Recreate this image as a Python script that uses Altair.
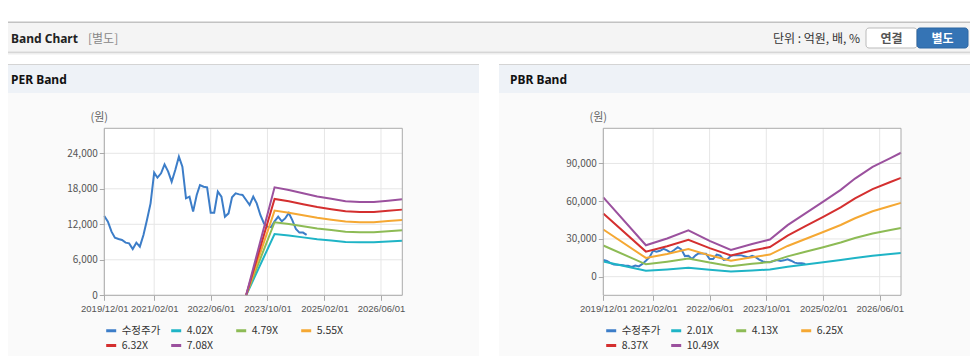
import altair as alt
import pandas as pd

# ---------------- data ----------------
price_start = "2019-12-01"
price = [13400, 12450, 10750, 9740, 9520, 9350, 8900, 8780, 7830, 8900,
         8220, 10200, 12730, 15540, 20730, 19880, 20610, 22130, 20900, 19200,
         21180, 23430, 21740, 16390, 16670, 14140, 16950, 18640, 18360, 18250,
         13970, 13970, 17520, 16670, 13290, 13850, 16560, 17230, 17060, 16950,
         16110, 15260, 16670, 15540, 13570, 12160, 11600, 11500, 12500, 13300,
         12500, 13000, 13900, 12700, 11200, 10600, 10600, 10200]

per_names = ["수정주가", "4.02X", "4.79X", "5.55X", "6.32X", "7.08X"]
per_band_dates = ["2023-04-01", "2023-12-01", "2024-04-01", "2024-08-01", "2024-12-01",
                  "2025-04-01", "2025-08-01", "2025-12-01", "2026-04-01", "2026-08-01",
                  "2026-12-01"]
per_402 = [0, 10360, 10100, 9790, 9480, 9250, 9020, 8950, 8950, 9090, 9210]
per_479 = [0, 12350, 12040, 11670, 11300, 11030, 10760, 10670, 10670, 10830, 10980]
per_555 = [0, 14310, 13950, 13520, 13090, 12780, 12460, 12360, 12360, 12550, 12720]
per_632 = [0, 16290, 15890, 15400, 14910, 14550, 14190, 14080, 14080, 14280, 14480]
per_708 = [0, 18250, 17800, 17250, 16700, 16300, 15900, 15770, 15770, 16000, 16220]

pbr_names = ["수정주가", "2.01X", "4.13X", "6.25X", "8.37X", "10.49X"]
pbr_band_dates = ["2019-12-01", "2020-12-01", "2021-06-01", "2021-12-01", "2022-06-01",
                  "2022-12-01", "2023-06-01", "2023-11-01", "2024-04-01", "2024-09-01",
                  "2025-02-01", "2025-07-01", "2025-11-01", "2026-04-01", "2026-09-01",
                  "2026-12-01"]
pbr_201 = [12070, 4790, 5820, 7050, 5460, 4060, 4980, 5650, 7860, 9640,
           11420, 13220, 14940, 16730, 18070, 18870]
pbr_413 = [24800, 9840, 11970, 14490, 11220, 8350, 10240, 11610, 16140, 19800,
           23460, 27170, 30710, 34370, 37130, 38780]
pbr_625 = [37540, 14900, 18110, 21930, 16980, 12630, 15490, 17580, 24430, 29970,
           35510, 41110, 46470, 52010, 56180, 58690]
pbr_837 = [50270, 19950, 24260, 29360, 22740, 16920, 20750, 23540, 32710, 40130,
           47550, 55060, 62240, 69660, 75240, 78590]
pbr_1049 = [63000, 25000, 30400, 36800, 28500, 21200, 26000, 29500, 41000, 50300,
            59600, 69000, 78000, 87300, 94300, 98500]

x_ticks = ["2019-12-01", "2021-02-01", "2022-06-01", "2023-10-01", "2025-02-01", "2026-06-01"]
x_domain = ["2019-12-01", "2026-12-01"]
per_y_ticks = [0, 6000, 12000, 18000, 24000]
per_y_domain = [0, 28225]
pbr_y_ticks = [0, 30000, 60000, 90000]
pbr_y_domain = [-14780, 117940]

series_colors = ["#3c7dc8", "#1fb4c6", "#8dbb55", "#f5a833", "#d42f2f", "#9b519e"]

# ---------------- layout constants ----------------
W, H = 962, 348
PLOT_BOTTOM, PLOT_TOP = 287.3, 120.3
PER_X0, PER_X1 = 96.3, 394.3
PBR_X0, PBR_X1 = 595.3, 893.0
KFONT = "Noto Sans CJK KR"
LFONT = "Noto Sans"
NFONT = "Liberation Sans"

price_dates = pd.date_range(price_start, periods=len(price), freq="MS").strftime("%Y-%m-%d").tolist()


def dt(s):
    y, m, d = (int(v) for v in s.split("-"))
    return alt.DateTime(year=y, month=m, date=d, utc=True)


def tidy(names, band_dates, bands):
    rows = [{"date": d, "value": v, "series": names[0]} for d, v in zip(price_dates, price)]
    for name, vals in zip(names[1:], bands):
        rows += [{"date": d, "value": v, "series": name} for d, v in zip(band_dates, vals)]
    return pd.DataFrame(rows)


one = pd.DataFrame({"k": [0]})


def box(x0, x1, y0, y1, **kw):
    return alt.Chart(one).mark_rect(**kw).encode(
        x=alt.value(x0), x2=alt.value(x1), y=alt.value(y0), y2=alt.value(y1))


def label(txt, x, y, **kw):
    return alt.Chart(one).mark_text(text=txt, baseline="middle", **kw).encode(
        x=alt.value(x), y=alt.value(y))


def panel(df, names, x0, x1, ydom, yticks, legend_x):
    xs = alt.Scale(type="utc", domain=[dt(d) for d in x_domain], range=[x0, x1], nice=False)
    ys = alt.Scale(domain=ydom, range=[PLOT_BOTTOM, PLOT_TOP], nice=False, zero=False)
    xaxis = alt.Axis(orient="bottom", offset=PLOT_BOTTOM - H, values=[dt(d) for d in x_ticks],
                     labelExpr="utcFormat(datum.value, '%Y/%m/%d')", grid=False, domain=False,
                     tickSize=5, tickColor="#aaaaaa", labelFont=NFONT, labelFontSize=9.5,
                     labelColor="#555555", labelPadding=3, labelFlush=False,
                     labelOverlap=False, title=None, zindex=2)
    yaxis = alt.Axis(orient="left", offset=-x0, values=yticks, format=",d", grid=False,
                     domain=False, tickSize=5, tickColor="#aaaaaa", labelFont=KFONT,
                     labelFontSize=10, labelColor="#555555", labelPadding=2, title=None,
                     zindex=2)
    frame_fill = box(x0, x1, PLOT_TOP, PLOT_BOTTOM, fill="white")
    vgrid = alt.Chart(pd.DataFrame({"date": x_ticks})).mark_rule(
        color="#e6e6e6", strokeWidth=1).encode(
        x=alt.X("date:T", scale=xs, axis=xaxis),
        y=alt.value(PLOT_TOP), y2=alt.value(PLOT_BOTTOM))
    hgrid = alt.Chart(pd.DataFrame({"value": yticks})).mark_rule(
        color="#e6e6e6", strokeWidth=1).encode(
        y=alt.Y("value:Q", scale=ys, axis=yaxis),
        x=alt.value(x0), x2=alt.value(x1))
    lines = alt.Chart(df).mark_line(strokeWidth=2).encode(
        x=alt.X("date:T", scale=xs, axis=xaxis),
        y=alt.Y("value:Q", scale=ys, axis=yaxis),
        color=alt.Color("series:N", scale=alt.Scale(domain=names, range=series_colors),
                        legend=alt.Legend(orient="none", legendX=legend_x, legendY=316,
                                          direction="horizontal",
                                          title=None, columns=4, gridAlign="all",
                                          symbolType="stroke", symbolStrokeWidth=3,
                                          symbolSize=100, labelFont=KFONT, labelFontSize=10.5,
                                          labelColor="#333333", labelOffset=4,
                                          columnPadding=4, rowPadding=2, padding=0,
                                          zindex=2)))
    frame_stroke = box(x0, x1, PLOT_TOP, PLOT_BOTTOM, fill="transparent",
                       stroke="#aaaaaa", strokeWidth=1)
    unit = label("(원)", (x0 - 5), 110, font=KFONT, fontSize=11, color="#666666", align="center")
    return alt.layer(frame_fill, vgrid, hgrid, lines, frame_stroke, unit)


per_df = tidy(per_names, per_band_dates, [per_402, per_479, per_555, per_632, per_708])
pbr_df = tidy(pbr_names, pbr_band_dates, [pbr_201, pbr_413, pbr_625, pbr_837, pbr_1049])

per_panel = panel(per_df, per_names, PER_X0, PER_X1, per_y_domain, per_y_ticks, PER_X0 + 0.4)
pbr_panel = panel(pbr_df, pbr_names, PBR_X0, PBR_X1, pbr_y_domain, pbr_y_ticks, PBR_X0 + 1.4)

decor = [
    # page header bar
    box(0, W, 13.5, 15, fill="#c2c2c2"),
    box(0, W, 15, 43.5, fill="#f4f4f4"),
    box(0, W, 43.5, 45, fill="#d6d6d6"),
    box(0, W, 45, 46.5, fill="#eeeeee"),
    label("Band Chart", 3, 31, font=LFONT, fontSize=12, fontWeight="bold", color="#222222", align="left"),
    label("[별도]", 80, 31, font=KFONT, fontSize=12, color="#888888", align="left"),
    label("단위 : 억원, 배, %", 852, 31, font=KFONT, fontSize=12, color="#333333", align="right"),
    box(858, 909, 20, 40, fill="white", stroke="#bbbbbb", strokeWidth=1, cornerRadius=3),
    box(909, 960, 20, 40, fill="#3574b5", stroke="#2d66a3", strokeWidth=1, cornerRadius=3),
    label("연결", 883.5, 30.5, font=KFONT, fontSize=12, fontWeight="bold", color="#555555", align="center"),
    label("별도", 934.5, 30.5, font=KFONT, fontSize=12, fontWeight="bold", color="white", align="center"),
    # panel headers and bodies
    box(0, 471, 85, H, fill="#fafafa"),
    box(491, W, 85, H, fill="#fafafa"),
    box(0, 471, 56, 57, fill="#d4d4d4"),
    box(491, W, 56, 57, fill="#d4d4d4"),
    box(0, 471, 57, 85, fill="#eef2f7"),
    box(491, W, 57, 85, fill="#eef2f7"),
    label("PER Band", 3, 72, font=LFONT, fontSize=12, fontWeight="bold", color="#111111", align="left"),
    label("PBR Band", 502, 72, font=LFONT, fontSize=12, fontWeight="bold", color="#111111", align="left"),
]

chart = alt.layer(*decor, per_panel, pbr_panel).resolve_scale(
    x="independent", y="independent", color="independent"
).resolve_axis(
    x="independent", y="independent"
).resolve_legend(
    color="independent"
).properties(
    width=W, height=H, autosize=alt.AutoSizeParams(type="none"), padding=0, background="white"
).configure_view(strokeWidth=0)

chart.save("out.html", embed_options={"renderer": "svg", "actions": False})
